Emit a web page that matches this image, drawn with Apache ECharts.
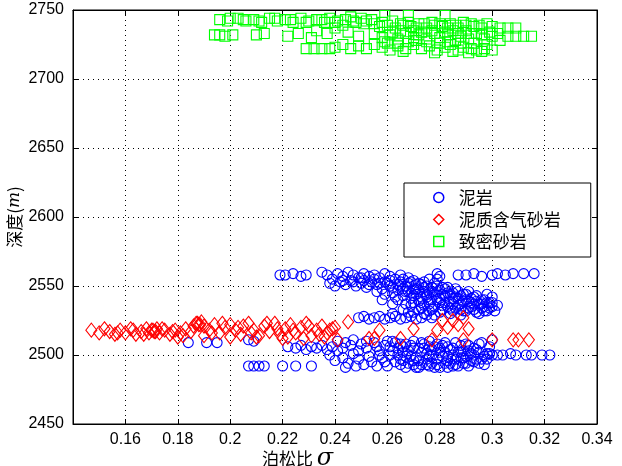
<!DOCTYPE html>
<html><head><meta charset="utf-8">
<script src="https://cdn.jsdelivr.net/npm/echarts@6/dist/echarts.min.js"></script>
<style>html,body{margin:0;padding:0;background:#fff}#c{width:622px;height:466px}</style>
</head><body><div id="c"></div>
<script>
// Series names
const seriesNames = ['泥岩', '泥质含气砂岩', '致密砂岩'];
// x tick labels (0.14 is the axis start but not labelled)
const xTicks = [0.16, 0.18, 0.2, 0.22, 0.24, 0.26, 0.28, 0.3, 0.32, 0.34];
const yTicks = [2450, 2500, 2550, 2600, 2650, 2700, 2750];

// 泥岩 (mudstone) [poisson ratio, depth]
const mudstone = [
 [0.219,2558],[0.221,2558],[0.224,2559],[0.227,2557],[0.229,2558],[0.235,2560],[0.237,2558],[0.241,2559],[0.243,2557],[0.245,2560],
 [0.247,2558],[0.249,2556],[0.251,2559],[0.253,2557],[0.255,2558],[0.257,2556],[0.259,2559],[0.261,2557],[0.263,2555],[0.265,2558],
 [0.279,2559],[0.280,2557],[0.287,2558],[0.290,2558],[0.293,2559],[0.296,2557],[0.300,2558],[0.302,2559],[0.305,2558],[0.308,2559],
 [0.312,2559],[0.316,2559],
 [0.238,2552],[0.240,2550],[0.242,2553],[0.244,2551],[0.246,2554],[0.248,2550],[0.250,2552],[0.252,2549],[0.254,2553],[0.256,2551],
 [0.258,2548],[0.260,2552],[0.262,2549],[0.264,2551],[0.250,2556],[0.279,2555],
 [0.239,2555],[0.243,2554],[0.247,2553],[0.251,2554],[0.255,2555],[0.259,2553],[0.261,2554],[0.266,2555],[0.253,2551],[0.257,2552],
 [0.262,2545],[0.264,2547],[0.266,2543],[0.267,2550],[0.268,2546],[0.269,2541],[0.270,2548],[0.271,2544],[0.272,2539],[0.273,2551],
 [0.274,2546],[0.275,2542],[0.276,2537],[0.277,2549],[0.278,2544],[0.279,2540],[0.280,2547],[0.281,2536],[0.282,2543],[0.283,2549],
 [0.284,2539],[0.285,2545],[0.286,2534],[0.287,2541],[0.288,2537],[0.289,2544],[0.290,2532],[0.291,2539],[0.292,2535],[0.293,2542],
 [0.294,2531],[0.295,2537],[0.296,2534],[0.297,2540],[0.298,2532],[0.300,2535],
 [0.256,2546],[0.259,2544],[0.261,2550],[0.263,2542],[0.265,2553],[0.266,2548],[0.268,2552],[0.269,2545],[0.270,2538],[0.271,2551],
 [0.272,2547],[0.273,2542],[0.274,2536],[0.275,2550],[0.276,2545],[0.277,2540],[0.278,2552],[0.279,2546],[0.280,2541],[0.281,2549],
 [0.282,2538],[0.283,2545],[0.284,2534],[0.285,2541],[0.286,2548],[0.287,2536],[0.288,2543],[0.289,2532],[0.290,2540],[0.291,2546],
 [0.292,2538],[0.293,2533],[0.294,2543],[0.295,2530],[0.296,2540],[0.297,2535],[0.298,2544],[0.299,2538],[0.301,2532],[0.300,2542],
 [0.302,2536],[0.270,2554],[0.274,2553],[0.276,2555],[0.268,2556],[0.272,2533],[0.276,2532],[0.280,2531],[0.284,2530],[0.288,2529],
 [0.264,2540],[0.267,2537],
 [0.265,2550],[0.267,2546],[0.269,2553],[0.270,2543],[0.271,2548],[0.272,2552],[0.273,2538],[0.274,2549],[0.275,2544],[0.276,2540],
 [0.277,2546],[0.278,2535],[0.279,2550],[0.280,2538],[0.281,2544],[0.282,2548],[0.283,2535],[0.284,2544],[0.285,2537],[0.286,2542],
 [0.287,2546],[0.288,2533],[0.289,2539],[0.290,2544],[0.291,2534],[0.292,2541],[0.293,2537],[0.294,2539],[0.296,2537],[0.297,2532],
 [0.298,2538],[0.299,2534],[0.300,2538],[0.269,2536],[0.273,2534],[0.277,2533],[0.281,2533],[0.285,2532],
 [0.258,2540],[0.262,2537],[0.266,2533],[0.270,2531],[0.274,2530],[0.278,2529],
 [0.249,2527],[0.251,2528],[0.253,2526],[0.255,2527],[0.257,2528],[0.259,2526],[0.261,2527],[0.263,2528],[0.265,2526],[0.267,2527],
 [0.269,2528],[0.271,2526],[0.273,2527],[0.275,2529],[0.277,2527],[0.262,2530],[0.268,2531],
 [0.184,2509],[0.191,2509],[0.195,2509],[0.207,2511],[0.209,2510],[0.207,2492],[0.209,2492],[0.211,2492],[0.213,2492],[0.220,2492],
 [0.225,2492],[0.231,2492],
 [0.222,2506],[0.225,2505],[0.227,2507],[0.229,2504],[0.231,2506],[0.233,2505],[0.235,2507],[0.237,2504],[0.239,2506],[0.241,2503],
 [0.238,2500],[0.240,2496],[0.243,2498],[0.245,2494],[0.247,2501],[0.249,2497],[0.251,2493],[0.253,2499],
 [0.243,2505],[0.246,2507],[0.249,2503],[0.252,2510],[0.254,2495],[0.256,2492],[0.248,2492],[0.244,2491],
 [0.241,2510],[0.244,2509],[0.247,2511],[0.250,2508],[0.252,2505],[0.255,2509],[0.257,2503],[0.259,2507],[0.261,2500],[0.262,2510],
 [0.264,2505],[0.265,2497],[0.266,2502],[0.267,2508],[0.268,2494],[0.269,2499],[0.270,2505],[0.271,2491],[0.272,2496],[0.273,2502],
 [0.274,2508],[0.275,2493],[0.276,2499],[0.277,2504],[0.278,2491],[0.279,2497],[0.280,2502],[0.281,2507],[0.282,2494],[0.283,2499],
 [0.284,2504],[0.285,2492],[0.286,2497],[0.287,2502],[0.288,2507],[0.289,2494],[0.290,2499],[0.291,2503],[0.292,2496],[0.293,2500],
 [0.295,2502],[0.296,2497],[0.298,2501],[0.300,2500],[0.300,2511],
 [0.256,2506],[0.258,2498],[0.260,2510],[0.263,2495],[0.265,2508],[0.267,2491],[0.268,2503],[0.270,2510],[0.271,2498],[0.273,2493],
 [0.274,2505],[0.276,2510],[0.277,2494],[0.279,2508],[0.280,2491],[0.281,2499],[0.283,2506],[0.284,2494],[0.286,2509],[0.287,2492],
 [0.289,2503],[0.290,2508],[0.291,2492],[0.293,2505],[0.294,2497],[0.296,2509],[0.297,2493],[0.299,2506],[0.262,2503],[0.266,2496],
 [0.270,2493],[0.275,2501],[0.278,2506],[0.282,2502],[0.285,2500],[0.288,2498],[0.292,2501],[0.295,2494],[0.298,2497],
 [0.257,2500],[0.259,2495],[0.261,2506],[0.263,2509],[0.264,2500],[0.266,2506],[0.267,2499],[0.269,2507],[0.270,2496],[0.272,2505],
 [0.273,2509],[0.275,2497],[0.276,2506],[0.277,2500],[0.279,2493],[0.280,2505],[0.282,2509],[0.283,2496],[0.285,2505],[0.286,2493],
 [0.288,2502],[0.289,2498],[0.290,2494],[0.291,2507],[0.293,2495],[0.294,2504],[0.295,2508],[0.297,2499],[0.299,2501],[0.260,2492],
 [0.265,2493],[0.272,2491],[0.276,2492],[0.283,2491],
 [0.302,2500],[0.304,2500],[0.307,2501],[0.309,2500],[0.313,2500],[0.315,2500],[0.319,2500],[0.322,2500]
];

// 泥质含气砂岩 (shaly gas sandstone)
const gasSand = [
 [0.147,2518],[0.150,2516],[0.152,2519],[0.154,2517],[0.156,2515],[0.158,2518],[0.160,2516],[0.162,2519],[0.164,2515],[0.166,2517],
 [0.168,2519],[0.169,2516],[0.170,2518],[0.1705,2518],[0.171,2517],[0.1715,2517],[0.172,2519],[0.173,2516],[0.175,2518],[0.177,2515],
 [0.179,2518],[0.181,2516],[0.183,2519],[0.185,2517],[0.186,2521],[0.187,2523],[0.1875,2523],[0.188,2522],[0.1885,2522],[0.189,2524],
 [0.190,2521],[0.192,2518],[0.194,2522],[0.196,2516],[0.198,2520],[0.200,2522],[0.202,2518],[0.204,2515],[0.205,2521],[0.207,2523],
 [0.209,2518],[0.211,2514],[0.213,2521],[0.215,2517],[0.217,2523],[0.219,2515],[0.221,2519],[0.223,2522],[0.225,2516],[0.227,2520],
 [0.229,2523],[0.231,2514],[0.233,2518],[0.235,2521],[0.237,2516],[0.239,2519],
 [0.157,2516],[0.163,2518],[0.167,2515],[0.174,2519],[0.178,2517],[0.182,2514],[0.193,2516],[0.197,2523],[0.203,2520],[0.208,2516],
 [0.214,2523],[0.218,2519],[0.224,2518],[0.230,2521],[0.234,2515],
 [0.180,2513],[0.190,2514],[0.200,2513],[0.210,2513],[0.220,2512],[0.222,2513],[0.228,2512],[0.236,2513],
 [0.240,2520],[0.241,2511],[0.245,2524],[0.238,2518],[0.253,2512],[0.257,2518],[0.255,2512],[0.265,2512],[0.270,2519],[0.279,2518],
 [0.281,2525],[0.283,2520],[0.285,2525],[0.287,2522],[0.289,2527],[0.291,2519],[0.289,2511],[0.277,2511],[0.300,2511],[0.308,2511],
 [0.310,2511],[0.314,2511]
];

// 致密砂岩 (tight sandstone)
const tightSand = [
 [0.196,2743],[0.199,2742],[0.203,2744],[0.206,2742],[0.209,2743],[0.212,2741],[0.215,2744],[0.218,2742],[0.221,2743],[0.224,2741],
 [0.227,2744],[0.230,2742],[0.233,2743],[0.236,2741],[0.238,2744],[0.241,2742],[0.244,2743],[0.246,2745],[0.248,2741],[0.250,2744],
 [0.252,2742],[0.255,2740],
 [0.259,2746],[0.268,2746],[0.282,2746],
 [0.194,2732],[0.196,2732],[0.198,2731],[0.201,2732],[0.210,2732],[0.213,2733],[0.222,2731],[0.226,2733],[0.231,2730],[0.237,2733],
 [0.245,2734],[0.249,2731],
 [0.257,2738],[0.260,2739],[0.263,2737],[0.266,2739],[0.269,2738],[0.272,2740],[0.275,2737],[0.278,2739],[0.281,2738],[0.284,2740],
 [0.287,2737],[0.290,2739],[0.293,2738],[0.296,2737],[0.300,2738],[0.303,2737],[0.306,2737],[0.309,2737],
 [0.255,2733],[0.258,2730],[0.261,2732],[0.264,2729],[0.267,2733],[0.270,2730],[0.272,2732],[0.275,2729],[0.278,2733],[0.280,2730],
 [0.283,2732],[0.286,2728],[0.288,2731],[0.291,2729],[0.294,2733],[0.297,2729],[0.300,2731],[0.303,2728],[0.306,2731],[0.309,2731],
 [0.312,2731],[0.315,2731],
 [0.229,2722],[0.232,2722],[0.235,2722],[0.238,2722],[0.240,2723],[0.243,2725],[0.246,2722],[0.249,2724],[0.252,2722],[0.255,2725],
 [0.258,2723],[0.261,2721],[0.264,2724],[0.267,2722],[0.270,2725],[0.273,2722],[0.276,2724],[0.279,2721],[0.282,2723],[0.284,2725],
 [0.287,2721],[0.289,2723],[0.292,2722],[0.294,2721],[0.297,2722],[0.300,2721],
 [0.240,2737],[0.233,2735],[0.260,2726],[0.270,2735],[0.280,2726],[0.290,2735],[0.275,2727],[0.285,2735],
 [0.200,2744],[0.205,2743],[0.211,2742],[0.217,2744],[0.223,2743],[0.229,2741],[0.235,2743],[0.240,2741],[0.243,2739],[0.247,2742],
 [0.251,2740],[0.254,2743],[0.258,2741],[0.262,2742],[0.265,2740],[0.268,2741],[0.271,2737],[0.274,2740],[0.277,2741],[0.280,2740],
 [0.283,2737],[0.286,2739],[0.289,2741],[0.292,2740],[0.295,2739],[0.298,2740],[0.262,2734],[0.265,2735],[0.268,2727],[0.273,2734],
 [0.277,2735],[0.282,2734],[0.287,2733],[0.292,2733],[0.296,2732],[0.299,2734],[0.302,2733],[0.259,2727],[0.264,2726],[0.271,2728],
 [0.283,2727],[0.288,2726],[0.293,2726],[0.298,2725],[0.266,2720],[0.278,2719],[0.285,2720],[0.291,2719],[0.296,2720]
];

const colors = ['#0000ff', '#ff0000', '#00ff00'];
const symbols = ['circle', 'diamond', 'rect'];
const sizes = [10, [11, 14], 10];
const datasets = [mudstone, gasSand, tightSand];

const chart = echarts.init(document.getElementById('c'));
const fmt = v => {
  const r = Math.round(v * 100) / 100;
  return xTicks.some(t => Math.abs(t - r) < 1e-9) ? String(r) : '';
};
const axisFont = { fontFamily: 'Liberation Sans, Arial, sans-serif', fontSize: 16, color: '#000' };
chart.setOption({
  animation: false,
  grid: { left: 73, right: 25, top: 10, bottom: 42, outerBoundsMode: 'none', containLabel: false,
          show: true, borderColor: '#000', borderWidth: 1, backgroundColor: '#fff' },
  legend: {
    orient: 'vertical', left: 404, top: 183,
    backgroundColor: '#fff', borderColor: '#000', borderWidth: 1,
    padding: [6, 30, 7, 29], itemGap: 5, itemWidth: 10, itemHeight: 10,
    textStyle: { fontFamily: 'Noto Sans CJK SC', fontSize: 17, lineHeight: 17, color: '#000', padding: [0, 0, 0, 10] },
    data: seriesNames.map((n, i) => ({ name: n, icon: symbols[i], itemStyle: { color: 'transparent', borderColor: colors[i], borderWidth: 1.5 } }))
  },
  xAxis: [{
    type: 'value', min: 0.14, max: 0.34, interval: 0.02,
    name: '泊松比 {s|σ}', nameLocation: 'middle', nameGap: 23, nameMoveOverlap: false,
    nameTextStyle: { fontFamily: 'Noto Sans CJK SC', fontSize: 17, color: '#000', padding: [0, 75, 0, 0], rich: { s: { fontFamily: 'DejaVu Serif', fontStyle: 'italic', fontSize: 24, color: '#000' } } },
    axisLine: { lineStyle: { color: '#000' } },
    axisTick: { inside: true, length: 5, lineStyle: { color: '#000' } },
    axisLabel: Object.assign({ formatter: fmt, margin: 8 }, axisFont),
    splitLine: { show: true, lineStyle: { color: '#000', type: [1, 4], width: 1 } }
  }, {
    type: 'value', position: 'top', min: 0.14, max: 0.34, interval: 0.02,
    axisLine: { lineStyle: { color: '#000' } },
    axisTick: { inside: true, length: 5, lineStyle: { color: '#000' } },
    axisLabel: { show: false }, splitLine: { show: false }
  }],
  yAxis: [{
    type: 'value', min: 2450, max: 2750, interval: 50,
    name: '深度({m|m})', nameLocation: 'middle', nameGap: 50, nameRotate: 90, nameMoveOverlap: false,
    nameTextStyle: { fontFamily: 'Noto Sans CJK SC', fontSize: 17, color: '#000', rich: { m: { fontFamily: 'DejaVu Serif', fontStyle: 'italic', fontSize: 17, color: '#000' } } },
    axisLine: { show: true, lineStyle: { color: '#000' } },
    axisTick: { show: true, inside: true, length: 5, lineStyle: { color: '#000' } },
    axisLabel: Object.assign({ margin: 9, formatter: v => String(v) }, axisFont),
    splitLine: { show: true, lineStyle: { color: '#000', type: [1, 4], width: 1 } }
  }, {
    type: 'value', position: 'right', min: 2450, max: 2750, interval: 50,
    axisLine: { show: true, lineStyle: { color: '#000' } },
    axisTick: { show: true, inside: true, length: 5, lineStyle: { color: '#000' } },
    axisLabel: { show: false }, splitLine: { show: false }
  }],
  series: seriesNames.map((n, i) => ({
    name: n, type: 'scatter', symbol: symbols[i], symbolSize: sizes[i],
    data: datasets[i],
    itemStyle: { color: 'transparent', borderColor: colors[i], borderWidth: 1.1, opacity: 1 },
    emphasis: { disabled: true }
  }))
});
</script></body></html>
